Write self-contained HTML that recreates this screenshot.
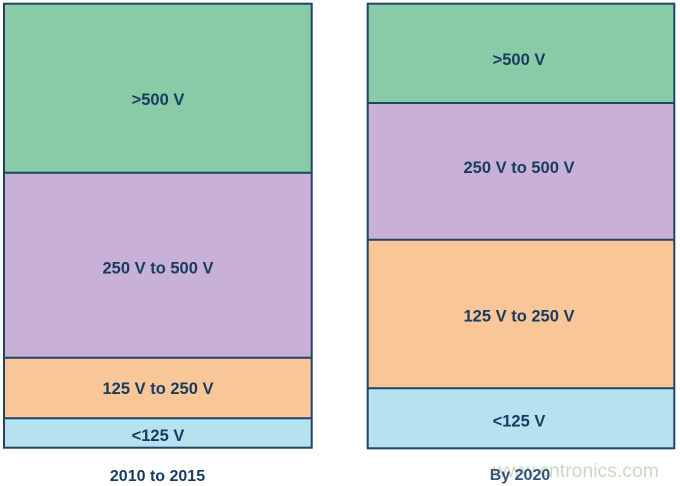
<!DOCTYPE html>
<html>
<head>
<meta charset="utf-8">
<style>
  html, body { margin: 0; padding: 0; background: #ffffff; }
  svg { display: block; }
  text { font-family: "Liberation Sans", Arial, sans-serif; font-weight: bold; font-size: 16px; fill: #173c60; }
</style>
</head>
<body>
<svg width="680" height="486" viewBox="0 0 680 486" xmlns="http://www.w3.org/2000/svg">
  <!-- Left bar -->
  <rect x="4" y="3.7" width="307.7" height="169" fill="#89cba6"/>
  <rect x="4" y="172.7" width="307.7" height="185" fill="#c9b0d6"/>
  <rect x="4" y="357.7" width="307.7" height="60.6" fill="#f9c797"/>
  <rect x="4" y="418.3" width="307.7" height="29.4" fill="#b6e2ef"/>
  <g stroke="#1e4468" stroke-width="2" fill="none">
    <rect x="4" y="3.7" width="307.7" height="444"/>
    <line x1="4" y1="172.7" x2="311.7" y2="172.7"/>
    <line x1="4" y1="357.7" x2="311.7" y2="357.7"/>
    <line x1="4" y1="418.3" x2="311.7" y2="418.3"/>
  </g>

  <!-- Right bar -->
  <rect x="367.7" y="3.7" width="306.6" height="99.3" fill="#89cba6"/>
  <rect x="367.7" y="103" width="306.6" height="136.7" fill="#c9b0d6"/>
  <rect x="367.7" y="239.7" width="306.6" height="148.6" fill="#f9c797"/>
  <rect x="367.7" y="388.3" width="306.6" height="60" fill="#b6e2ef"/>
  <g stroke="#1e4468" stroke-width="2" fill="none">
    <rect x="367.7" y="3.7" width="306.6" height="444.6"/>
    <line x1="367.7" y1="103" x2="674.3" y2="103"/>
    <line x1="367.7" y1="239.7" x2="674.3" y2="239.7"/>
    <line x1="367.7" y1="388.3" x2="674.3" y2="388.3"/>
  </g>

  <!-- Left labels -->
  <text x="158" y="105" text-anchor="middle" style="font-size:16.5px">&gt;500 V</text>
  <text x="158" y="273.5" text-anchor="middle" style="font-size:16.5px">250 V to 500 V</text>
  <text x="158" y="394" text-anchor="middle" style="font-size:16.5px">125 V to 250 V</text>
  <text x="158" y="441" text-anchor="middle" style="font-size:16.5px">&lt;125 V</text>
  <text x="157.5" y="481" text-anchor="middle">2010 to 2015</text>

  <!-- Right labels -->
  <text x="519" y="65" text-anchor="middle" style="font-size:16.5px">&gt;500 V</text>
  <text x="519" y="173" text-anchor="middle" style="font-size:16.5px">250 V to 500 V</text>
  <text x="519" y="321.7" text-anchor="middle" style="font-size:16.5px">125 V to 250 V</text>
  <text x="519" y="426.7" text-anchor="middle" style="font-size:16.5px">&lt;125 V</text>

  <!-- Watermark -->
  <text x="493" y="477" style="font-weight:normal;font-size:19.4px;fill:#c9d9c2">www.cntronics.com</text>
  <text x="520" y="480" text-anchor="middle" style="fill:#33547a">By 2020</text>
</svg>
</body>
</html>
